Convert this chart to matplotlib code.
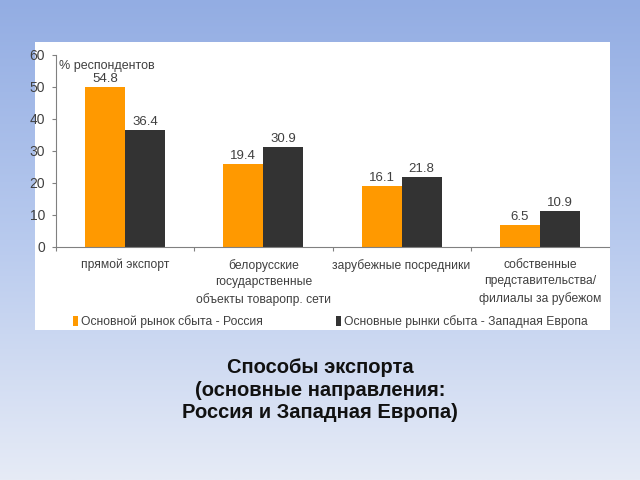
import numpy as np
import matplotlib
matplotlib.use('Agg')
import matplotlib.pyplot as plt
from matplotlib.patches import Rectangle

categories = ['прямой экспорт',
              'белорусские\nгосударственные\nобъекты товаропр. сети',
              'зарубежные посредники',
              'собственные\nпредставительства/\nфилиалы за рубежом']
# bar heights as drawn in the picture, and the numbers printed over them
russia_bars = [50.0, 25.7, 19.0, 6.8]
europe_bars = [36.5, 31.2, 21.7, 11.0]
russia_labels = ['54.8', '19.4', '16.1', '6.5']
europe_labels = ['36.4', '30.9', '21.8', '10.9']
series_names = ['Основной рынок сбыта - Россия', 'Основные рынки сбыта - Западная Европа']
yticks = [0, 10, 20, 30, 40, 50, 60]

orange = '#ff9900'
dark = '#333333'
txt = '#404040'
plt.rcParams['font.family'] = ['Liberation Sans', 'DejaVu Sans']

W, H = 640, 480
fig = plt.figure(figsize=(6.4, 4.8), dpi=100)

# blue gradient background
bg = fig.add_axes([0, 0, 1, 1], zorder=-10)
top = np.array([0x93, 0xad, 0xe3]) / 255
mid = np.array([0xb8, 0xca, 0xee]) / 255
bot = np.array([0xe6, 0xeb, 0xf6]) / 255
t = np.linspace(0, 1, 256)[:, None]
grad = np.where(t < 0.5, top + (mid - top) * (t / 0.5), mid + (bot - mid) * ((t - 0.5) / 0.5))
bg.imshow(grad[:, None, :], aspect='auto', extent=[0, 1, 0, 1])
bg.axis('off')

# white chart panel
fig.patches.append(Rectangle((35 / W, 1 - 330 / H), 575 / W, 288 / H,
                             transform=fig.transFigure, facecolor='white',
                             edgecolor='none', zorder=-5))

ax = fig.add_axes([56 / W, 1 - 246.5 / H, 553 / W, 191.5 / H])
ax.set_facecolor('none')
x = np.arange(len(categories))
w = 0.29
b1 = ax.bar(x - w / 2, russia_bars, w, color=orange, label=series_names[0])
b2 = ax.bar(x + w / 2, europe_bars, w, color=dark, label=series_names[1])
for bars, labs in ((b1, russia_labels), (b2, europe_labels)):
    for p, s in zip(bars, labs):
        ax.annotate(s, (p.get_x() + p.get_width() / 2, p.get_height()), xytext=(0, 1.5),
                    textcoords='offset points', ha='center', va='bottom', fontsize=9.5, color=txt)

ax.set_xlim(-0.5, 3.5)
ax.set_ylim(0, 60)
ax.set_yticks(yticks)
ax.tick_params(axis='y', labelsize=10, labelcolor=txt, color='#808080', length=3, pad=5)
ax.set_xticks([-0.5, 0.5, 1.5, 2.5])
ax.set_xticklabels([])
ax.tick_params(axis='x', color='#808080', length=3)
for s in ('top', 'right'):
    ax.spines[s].set_visible(False)
for s in ('left', 'bottom'):
    ax.spines[s].set_color('#808080')
for i, c in enumerate(categories):
    ax.text(i, -3.8, c, ha='center', va='top', fontsize=8.7, color=txt, linespacing=1.5)
ax.text(0.005, 0.972, '% респондентов', transform=ax.transAxes, ha='left', va='top',
        fontsize=9, color=txt)

# legend: two entries placed separately like the original
fig.legend(handles=[b1], loc='center left', bbox_to_anchor=(62 / W, 1 - 322 / H),
           frameon=False, fontsize=8.7, handlelength=0.45, handleheight=0.9,
           handletextpad=0.25, labelcolor=txt)
fig.legend(handles=[b2], loc='center left', bbox_to_anchor=(325 / W, 1 - 322 / H),
           frameon=False, fontsize=8.7, handlelength=0.45, handleheight=0.9,
           handletextpad=0.25, labelcolor=txt)

fig.text(0.5, 1 - 390 / H, 'Способы экспорта\n(основные направления:\nРоссия и Западная Европа)',
         ha='center', va='center', fontsize=14.5, fontweight='bold',
         color='#111111', linespacing=1.22)

fig.savefig('out.png', dpi=100)
